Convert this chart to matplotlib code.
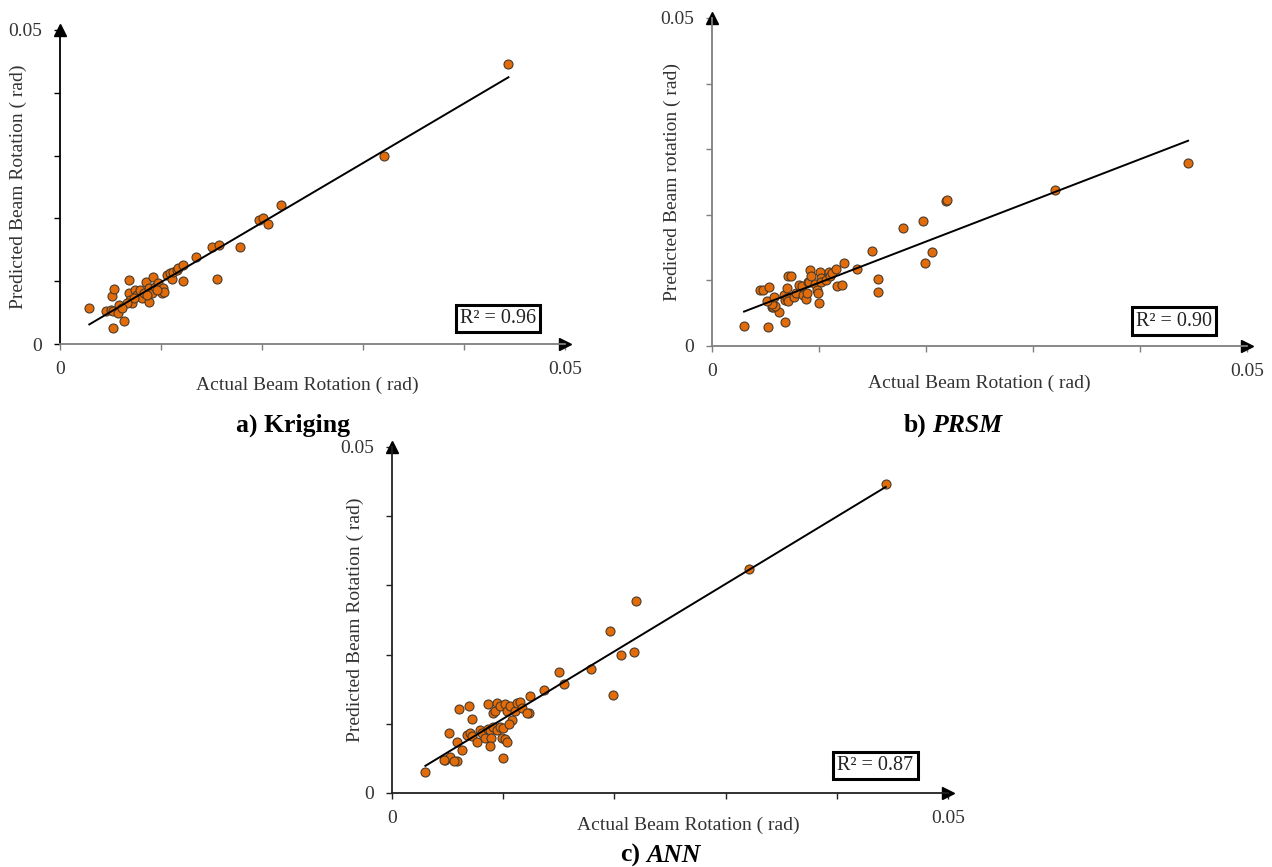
import numpy as np
import matplotlib
matplotlib.use("Agg")
from matplotlib import pyplot as plt

plt.rcParams['font.family'] = ['Liberation Serif', 'DejaVu Serif']

# actual vs predicted beam rotation (rad) for each surrogate model
kriging_actual = [0.0029, 0.0052, 0.0063, 0.0046, 0.0050, 0.0052, 0.0058, 0.0057, 0.0051, 0.0053,
                  0.0068, 0.0068, 0.0069, 0.0071, 0.0074, 0.0076, 0.0079, 0.0081, 0.0083, 0.0085,
                  0.0088, 0.0088, 0.0091, 0.0092, 0.0094, 0.0097, 0.0099, 0.0101, 0.0102, 0.0103,
                  0.0106, 0.0109, 0.0111, 0.0112, 0.0116, 0.0117, 0.0122, 0.0122, 0.0135, 0.0150,
                  0.0155, 0.0157, 0.0178, 0.0197, 0.0201, 0.0206, 0.0219, 0.0321, 0.0444, 0.0073,
                  0.0086, 0.0096, 0.0066, 0.0061]
kriging_pred = [0.0058, 0.0025, 0.0036, 0.0053, 0.0054, 0.0053, 0.0062, 0.0050, 0.0076, 0.0088,
                0.0102, 0.0081, 0.0070, 0.0065, 0.0086, 0.0078, 0.0086, 0.0074, 0.0081, 0.0099,
                0.0089, 0.0067, 0.0081, 0.0106, 0.0091, 0.0097, 0.0086, 0.0081, 0.0089, 0.0083,
                0.0110, 0.0113, 0.0103, 0.0115, 0.0118, 0.0121, 0.0126, 0.0101, 0.0138, 0.0154,
                0.0103, 0.0158, 0.0155, 0.0198, 0.0200, 0.0191, 0.0221, 0.0300, 0.0446, 0.0073,
                0.0078, 0.0086, 0.0065, 0.0057]

prsm_actual = [0.0030, 0.0052, 0.0068, 0.0063, 0.0056, 0.0057, 0.0059, 0.0056, 0.0051, 0.0058,
               0.0045, 0.0048, 0.0053, 0.0067, 0.0068, 0.0070, 0.0071, 0.0070, 0.0071, 0.0074,
               0.0077, 0.0079, 0.0081, 0.0084, 0.0085, 0.0088, 0.0089, 0.0090, 0.0091, 0.0092,
               0.0093, 0.0096, 0.0098, 0.0099, 0.0100, 0.0101, 0.0102, 0.0102, 0.0107, 0.0109,
               0.0110, 0.0112, 0.0116, 0.0117, 0.0122, 0.0123, 0.0136, 0.0150, 0.0155, 0.0155,
               0.0179, 0.0197, 0.0199, 0.0206, 0.0219, 0.0220, 0.0321, 0.0445]
prsm_pred = [0.0031, 0.0029, 0.0037, 0.0051, 0.0059, 0.0060, 0.0061, 0.0064, 0.0069, 0.0075,
             0.0086, 0.0085, 0.0090, 0.0078, 0.0070, 0.0073, 0.0068, 0.0088, 0.0106, 0.0106,
             0.0075, 0.0080, 0.0093, 0.0091, 0.0078, 0.0071, 0.0080, 0.0098, 0.0098, 0.0115,
             0.0106, 0.0095, 0.0085, 0.0080, 0.0066, 0.0113, 0.0104, 0.0098, 0.0101, 0.0113,
             0.0106, 0.0111, 0.0118, 0.0091, 0.0093, 0.0126, 0.0118, 0.0145, 0.0102, 0.0082,
             0.0180, 0.0190, 0.0127, 0.0143, 0.0221, 0.0222, 0.0238, 0.0279]

ann_actual = [0.0030, 0.0048, 0.0052, 0.0058, 0.0051, 0.0058, 0.0063, 0.0060, 0.0069, 0.0072,
              0.0067, 0.0070, 0.0072, 0.0076, 0.0079, 0.0081, 0.0084, 0.0086, 0.0088, 0.0089,
              0.0088, 0.0091, 0.0094, 0.0097, 0.0099, 0.0100, 0.0102, 0.0103, 0.0100, 0.0086,
              0.0091, 0.0093, 0.0094, 0.0097, 0.0102, 0.0103, 0.0106, 0.0111, 0.0112, 0.0115,
              0.0117, 0.0123, 0.0124, 0.0108, 0.0105, 0.0137, 0.0121, 0.0150, 0.0155, 0.0179,
              0.0196, 0.0199, 0.0206, 0.0218, 0.0219, 0.0321, 0.0444, 0.0047, 0.0056]
ann_pred = [0.0030, 0.0048, 0.0052, 0.0046, 0.0087, 0.0074, 0.0062, 0.0121, 0.0125, 0.0107,
            0.0084, 0.0087, 0.0082, 0.0074, 0.0091, 0.0087, 0.0079, 0.0092, 0.0091, 0.0079,
            0.0068, 0.0096, 0.0091, 0.0096, 0.0079, 0.0094, 0.0078, 0.0074, 0.0051, 0.0129,
            0.0116, 0.0118, 0.0130, 0.0126, 0.0129, 0.0118, 0.0126, 0.0118, 0.0130, 0.0132,
            0.0123, 0.0116, 0.0140, 0.0106, 0.0099, 0.0149, 0.0115, 0.0175, 0.0157, 0.0179,
            0.0234, 0.0141, 0.0200, 0.0204, 0.0278, 0.0324, 0.0447, 0.0047, 0.0046]

r2_labels = ['R² = 0.96', 'R² = 0.90', 'R² = 0.87']
ylabels = ['Predicted Beam Rotation ( rad)', 'Predicted Beam rotation ( rad)',
           'Predicted Beam Rotation ( rad)']
xlabel = 'Actual Beam Rotation ( rad)'

fig = plt.figure(figsize=(12.72, 8.67), dpi=100)

# [left, bottom, width, height] in figure fraction
rects = [[0.0472, 0.6032, 0.3970, 0.3622],
         [0.5597, 0.6010, 0.4206, 0.3783],
         [0.3082, 0.0854, 0.4371, 0.3991]]
axis_colors = [('black', '#7f7f7f'), ('#7f7f7f', '#7f7f7f'), ('#222222', '#222222')]
ylab_x = [-0.066, -0.058, -0.050]
xlab = [(0.49, -0.105), (0.50, -0.088), (0.533, -0.068)]
boxpos = [(0.942, 0.081), (0.935, 0.076), (0.938, 0.080)]

datasets = [(kriging_actual, kriging_pred), (prsm_actual, prsm_pred), (ann_actual, ann_pred)]

for i, (xs, ys) in enumerate(datasets):
    ax = fig.add_axes(rects[i])
    x = np.array(xs)
    y = np.array(ys)
    ax.scatter(x, y, s=42, c='#E36C0A', edgecolors='#4a3a2a', linewidths=0.8, zorder=3)

    # linear trendline over the data range
    m, b = np.polyfit(x, y, 1)
    xx = np.array([x.min(), x.max()])
    ax.plot(xx, m * xx + b, color='black', lw=1.4, zorder=4)

    ax.set_xlim(0, 0.05)
    ax.set_ylim(0, 0.05)
    for s in ['top', 'right']:
        ax.spines[s].set_visible(False)
    lc, bc = axis_colors[i]
    ax.spines['left'].set_color(lc)
    ax.spines['bottom'].set_color(bc)
    ax.spines['left'].set_linewidth(1.3)
    ax.spines['bottom'].set_linewidth(1.3)

    ticks = [0, 0.01, 0.02, 0.03, 0.04, 0.05]
    labs = ['0', '', '', '', '', '0.05']
    ax.set_xticks(ticks)
    ax.set_xticklabels(labs)
    ax.set_yticks(ticks)
    ax.set_yticklabels(labs)
    ax.tick_params(axis='x', direction='out', length=4, width=1, color=bc,
                   labelsize=14, labelcolor='#333333', pad=8)
    ax.tick_params(axis='y', direction='out', length=4, width=1, color=lc,
                   labelsize=14, labelcolor='#333333', pad=9)

    # arrowheads at the axis ends
    ax.plot(0, 1, marker='^', color='black', ms=8, transform=ax.transAxes, clip_on=False)
    ax.plot(1, 0, marker='>', color='black', ms=8, transform=ax.transAxes, clip_on=False)

    ax.set_ylabel(ylabels[i], fontsize=14, color='#333333')
    ax.yaxis.set_label_coords(ylab_x[i], 0.5)
    ax.set_xlabel(xlabel, fontsize=14, color='#333333')
    ax.xaxis.set_label_coords(*xlab[i])

    ax.text(boxpos[i][0], boxpos[i][1], r2_labels[i], transform=ax.transAxes,
            ha='right', va='center', fontsize=14.5, color='#222222',
            bbox=dict(boxstyle='square,pad=0.2', fc='white', ec='black', lw=2.2))

# panel captions
fig.text(293 / 1272, 1 - 425 / 867, 'a) Kriging', ha='center', va='center',
         fontsize=18.5, weight='bold')
fig.text(926 / 1272, 1 - 425 / 867, 'b)', ha='right', va='center', fontsize=18.5, weight='bold')
fig.text(932 / 1272, 1 - 425 / 867, 'PRSM', ha='left', va='center', fontsize=18.5,
         weight='bold', style='italic')
fig.text(640 / 1272, 1 - 855 / 867, 'c)', ha='right', va='center', fontsize=18.5, weight='bold')
fig.text(646 / 1272, 1 - 855 / 867, 'ANN', ha='left', va='center', fontsize=18.5,
         weight='bold', style='italic')

fig.savefig('out.png', dpi=100, facecolor='white')
